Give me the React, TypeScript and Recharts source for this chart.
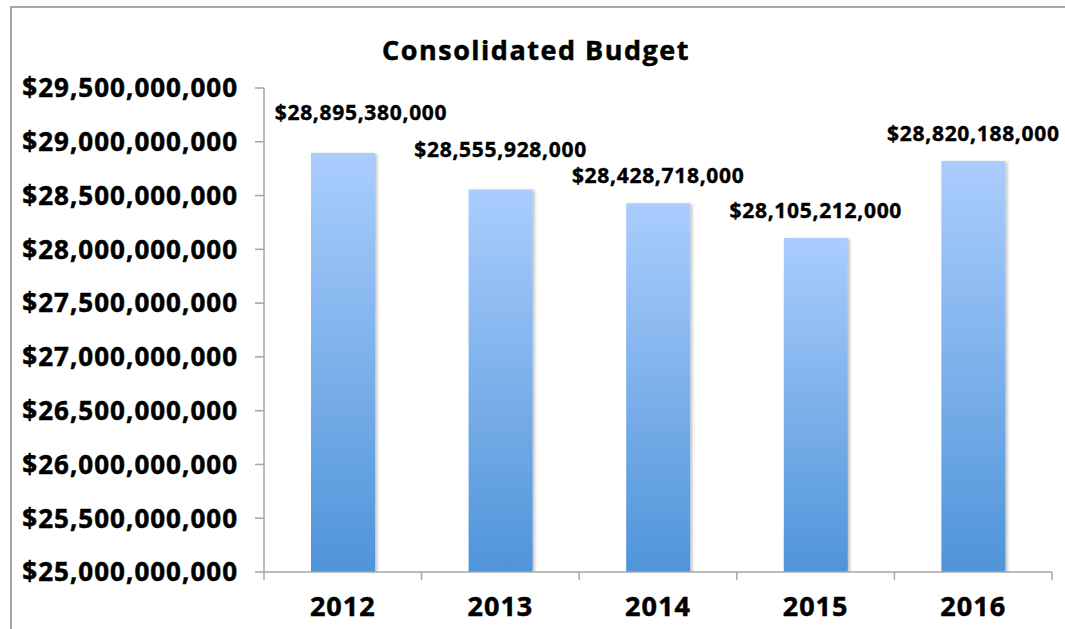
import { BarChart, Bar, XAxis, YAxis, LabelList } from "recharts"

const years = ["2012", "2013", "2014", "2015", "2016"]
const budget = [28895380000, 28555928000, 28428718000, 28105212000, 28820188000]
const yTicks = [
  25000000000, 25500000000, 26000000000, 26500000000, 27000000000,
  27500000000, 28000000000, 28500000000, 29000000000, 29500000000,
]

const data = years.map((year, i) => ({ year, budget: budget[i] }))

const FONT = "'Open Sans', 'DejaVu Sans', sans-serif"
const W = 1065
const H = 629
const MARGIN = { top: 88, right: 13, bottom: 0, left: 0 }
const Y_AXIS_W = 264
const X_AXIS_H = 57
const Y_MIN = 25000000000
const Y_MAX = 29500000000
const PLOT_LEFT = MARGIN.left + Y_AXIS_W
const PLOT_RIGHT = W - MARGIN.right
const PLOT_BOTTOM = H - MARGIN.bottom - X_AXIS_H
const BAND = (PLOT_RIGHT - PLOT_LEFT) / years.length
const AXIS_GREY = "#a6a6a6"
const LABEL_GAP = 20
const LABEL_H = 26
const LABEL_LIFT = 13

const fmtMoney = (v: number) => "$" + v.toLocaleString("en-US")

// Labels are wider than a band, so a label that would collide with its
// right-hand neighbour gets nudged upward (Excel does the same).
const pxPerUnit = (PLOT_BOTTOM - MARGIN.top) / (Y_MAX - Y_MIN)
const labelLift: number[] = (() => {
  const base = budget.map((v) => -(v - Y_MIN) * pxPerUnit - LABEL_GAP)
  const lifts = budget.map(() => 0)
  for (let i = base.length - 2; i >= 0; i--) {
    const mine = base[i]
    const next = base[i + 1] - lifts[i + 1]
    if (Math.abs(mine - next) < LABEL_H) lifts[i] = LABEL_LIFT
  }
  return lifts
})()

function XTick(props: any) {
  const { x, payload, index } = props
  const y = PLOT_BOTTOM
  const left = x - BAND / 2
  const last = index === years.length - 1
  return (
    <g>
      <line x1={left} y1={y} x2={left} y2={y + 8} stroke={AXIS_GREY} strokeWidth={1.5} />
      {last && <line x1={x + BAND / 2} y1={y} x2={x + BAND / 2} y2={y + 8} stroke={AXIS_GREY} strokeWidth={1.5} />}
      <text
        x={x}
        y={y + 25}
        dy="0.71em"
        textAnchor="middle"
        fontFamily={FONT}
        fontWeight={700}
        fontSize={27}
        letterSpacing={1}
        stroke="#000"
        strokeWidth={0.5}
        fill="#000"
      >
        {payload.value}
      </text>
    </g>
  )
}

function YTick(props: any) {
  const { x, y, payload } = props
  return (
    <text
      x={x}
      y={y}
      dy="0.36em"
      textAnchor="end"
      fontFamily={FONT}
      fontWeight={700}
      fontSize={26}
      letterSpacing={1}
      stroke="#000"
      strokeWidth={0.5}
      fill="#000"
    >
      {fmtMoney(payload.value)}
    </text>
  )
}

function BarLabel(props: any) {
  const { x, y, width, value, index } = props
  const half = 86
  // keep the label clear of the value axis, as the original does
  const cx = Math.max(x + width / 2, PLOT_LEFT + 11 + half)
  return (
    <text
      x={cx}
      y={y - LABEL_GAP - (labelLift[index] || 0)}
      textAnchor="middle"
      fontFamily={FONT}
      fontWeight={700}
      fontSize={21}
      letterSpacing={0.7}
      stroke="#000"
      strokeWidth={0.4}
      fill="#000"
    >
      {fmtMoney(value)}
    </text>
  )
}

export default function App() {
  return (
    <div style={{ position: "absolute", left: 0, top: 0, width: W, height: H, background: "#fff", fontFamily: FONT }}>
      <div
        style={{
          position: "absolute",
          left: 10,
          top: 6,
          width: W - 10,
          height: H - 6,
          borderLeft: "2px solid " + AXIS_GREY,
          borderTop: "2px solid " + AXIS_GREY,
          boxSizing: "border-box",
        }}
      />
      <div
        style={{
          position: "absolute",
          left: 0,
          top: 32,
          width: 1072,
          textAlign: "center",
          fontSize: 27,
          fontWeight: 700,
          letterSpacing: 1.5,
          color: "#000",
          lineHeight: "36px",
          WebkitTextStroke: "0.5px #000",
        }}
      >
        Consolidated Budget
      </div>
      <div style={{ position: "absolute", left: 0, top: 0 }}>
        <BarChart width={W} height={H} data={data} margin={MARGIN} barCategoryGap={0}>
          <defs>
            <linearGradient id="barFill" x1="0" y1="0" x2="0" y2="1">
              <stop offset="0%" stopColor="#aacdfd" />
              <stop offset="100%" stopColor="#4f94d9" />
            </linearGradient>
            <filter id="barShadow" x="-20%" y="-5%" width="140%" height="110%">
              <feDropShadow dx="2" dy="1" stdDeviation="1.5" floodColor="#000" floodOpacity="0.25" />
            </filter>
          </defs>
          <XAxis
            dataKey="year"
            height={X_AXIS_H}
            axisLine={{ stroke: AXIS_GREY, strokeWidth: 1.5 }}
            tickLine={false}
            tick={<XTick />}
            interval={0}
          />
          <YAxis
            width={Y_AXIS_W}
            domain={[Y_MIN, Y_MAX]}
            ticks={yTicks}
            interval={0}
            allowDataOverflow
            axisLine={{ stroke: AXIS_GREY, strokeWidth: 1.5 }}
            tickLine={{ stroke: AXIS_GREY, strokeWidth: 1.5 }}
            tickSize={9}
            tickMargin={17}
            tick={<YTick />}
          />
          <Bar dataKey="budget" barSize={64} fill="url(#barFill)" filter="url(#barShadow)" isAnimationActive={false}>
            <LabelList dataKey="budget" content={<BarLabel />} />
          </Bar>
        </BarChart>
      </div>
    </div>
  )
}
